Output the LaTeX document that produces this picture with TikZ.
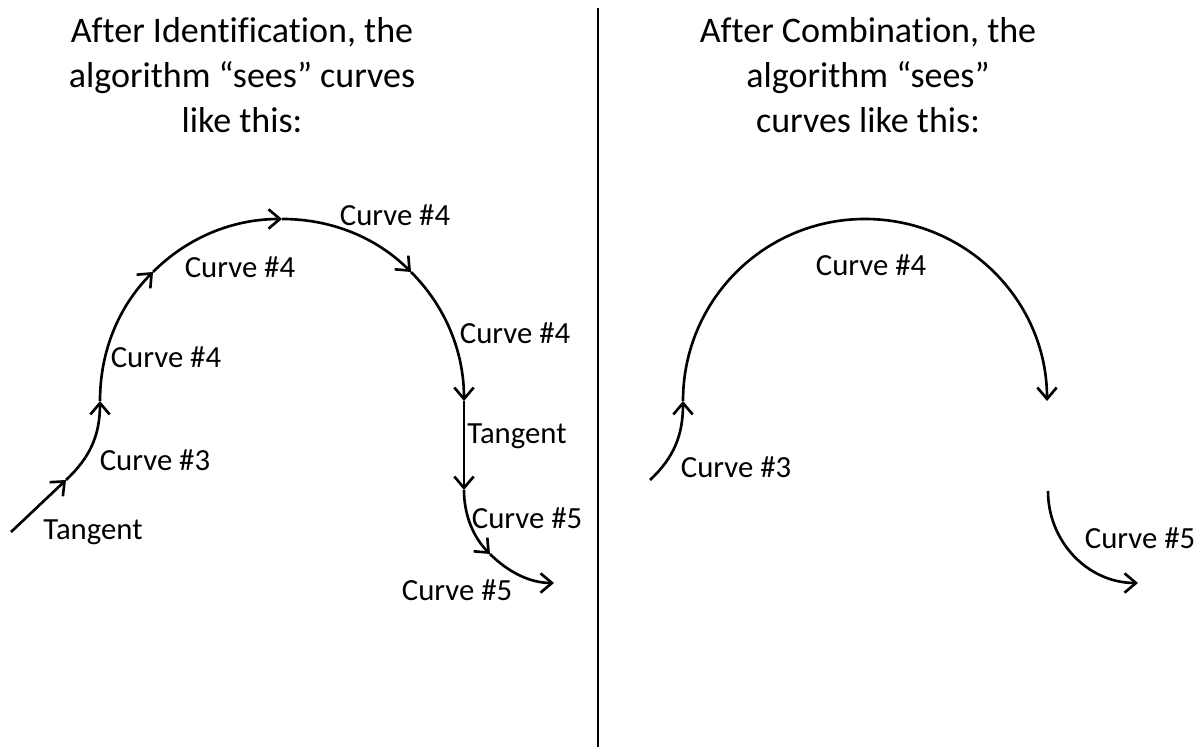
\documentclass[tikz,border=0pt]{standalone}
\usepackage{fontspec}
\setmainfont{Carlito}[Ligatures={TeX,NoCommon}]
\usetikzlibrary{arrows.meta}

\begin{document}
\begin{tikzpicture}[x=0.02cm, y=0.02cm,
    every node/.style={font=\fontsize{17.5}{21}\selectfont, inner sep=1pt},
    title/.style={align=center, font=\fontsize{20.5}{25.5}\selectfont},
    seg/.style={line width=1.5pt, -{Straight Barb[length=6.5pt, width=11pt]}}]
    \useasboundingbox (0,0) rectangle (1200,747);

    % Divider
    \coordinate (divtop) at (598,739);
    \coordinate (divbot) at (598,0);
    \draw[line width=1.2pt] (divtop) -- (divbot);

    % Titles
    \node[title] (titleL) at (242,672) {After Identification, the\\algorithm “sees” curves\\like this:};
    \node[title] (titleR) at (868,672) {After Combination, the\\algorithm “sees”\\curves like this:};

    % Left: pieces after identification
    \coordinate (t0) at (11,215);
    \coordinate (t1) at (66,267);
    \coordinate (w)  at (100,346);
    \coordinate (nw) at (153,475);
    \coordinate (n)  at (282,528);
    \coordinate (ne) at (411,475);
    \coordinate (e)  at (464,346);
    \coordinate (s0) at (464,257);
    \coordinate (s1) at (490,193);
    \coordinate (s2) at (554,164);

    \draw[seg] (t0) -- (t1);
    \draw[seg] (t1) to[out=43, in=-90] (w);
    \draw[seg] (w) to[out=90, in=225, looseness=0.9] (nw);
    \draw[seg] (nw) to[out=45, in=180, looseness=0.9] (n);
    \draw[seg] (n) to[out=0, in=135, looseness=0.9] (ne);
    \draw[seg] (ne) to[out=-45, in=90, looseness=0.9] (e);
    \draw[seg] (e) -- (s0);
    \draw[seg] (s0) to[out=-90, in=135, looseness=0.9] (s1);
    \draw[seg] (s1) to[out=-45, in=180, looseness=0.9] (s2);

    \node (tanA)  at (93,215)  {Tangent};
    \node (crvA3) at (155,287) {Curve \#3};
    \node (crvA4) at (166,390) {Curve \#4};
    \node (crvB4) at (240,480) {Curve \#4};
    \node (crvC4) at (395,532) {Curve \#4};
    \node (crvD4) at (515,414) {Curve \#4};
    \node (tanB)  at (517,311) {Tangent};
    \node (crvA5) at (527,229) {Curve \#5};
    \node (crvB5) at (457,157) {Curve \#5};

    % Right: pieces after combination
    \coordinate (r0) at (650,267);
    \coordinate (rw) at (683,346);
    \coordinate (rn) at (865,528);
    \coordinate (re) at (1047,346);
    \coordinate (q0) at (1048,256);
    \coordinate (q1) at (1138,164);

    \draw[seg] (r0) to[out=43, in=-90] (rw);
    \draw[seg] (rw) to[out=90, in=180] (rn) to[out=0, in=90] (re);
    \draw[seg] (q0) to[out=-90, in=180] (q1);

    \node (crvR3) at (736,280)  {Curve \#3};
    \node (crvR4) at (871,482)  {Curve \#4};
    \node (crvR5) at (1140,209) {Curve \#5};
\end{tikzpicture}
\end{document}
